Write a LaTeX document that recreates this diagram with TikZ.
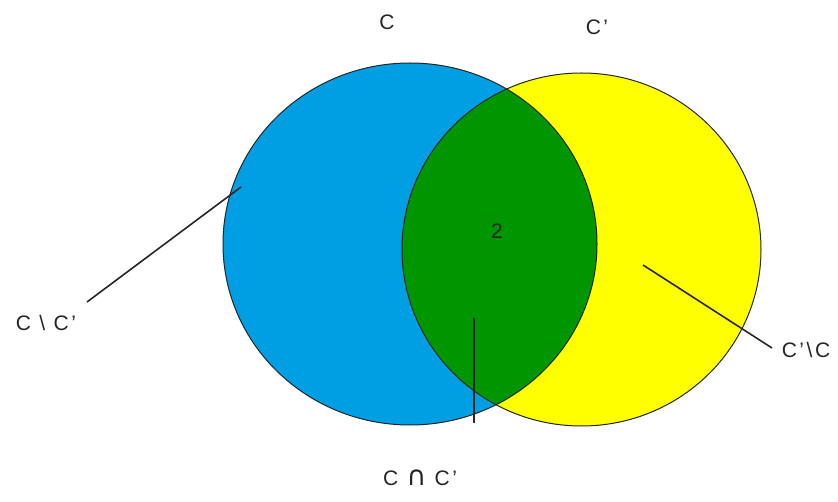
\documentclass[tikz,border=0pt]{standalone}
\usepackage{fontspec}
\setmainfont{Liberation Sans}[LetterSpace=12]
\newfontfamily\symfont{DejaVu Sans}
\usepackage{tikz}
\usetikzlibrary{positioning}
\definecolor{setblue}{RGB}{0,158,226}
\definecolor{setyellow}{RGB}{255,255,0}
\definecolor{setgreen}{RGB}{0,150,0}
\tikzset{
  rim/.style={draw=black!85, line width=1pt},
  lbl/.style={font=\fontsize{21}{24}\selectfont, text=black!85, inner sep=1pt},
  leader/.style={draw=black!85, line width=1.6pt},
}

\begin{document}
\begin{tikzpicture}[x=1pt, y=-1pt]
  \useasboundingbox (0,0) rectangle (838,502);
  % the two sets and their overlap
  \fill[setblue] (410,244) ellipse [x radius=187pt, y radius=181pt];
  \fill[setyellow] (581.5,249.5) ellipse [x radius=179.5pt, y radius=176.5pt];
  \begin{scope}
    \clip (410,244) ellipse [x radius=187pt, y radius=181pt];
    \fill[setgreen] (581.5,249.5) ellipse [x radius=179.5pt, y radius=176.5pt];
  \end{scope}
  \draw[rim] (410,244) ellipse [x radius=187pt, y radius=181pt];
  \draw[rim] (581.5,249.5) ellipse [x radius=179.5pt, y radius=176.5pt];
  % labels
  \node[lbl] (setC) at (387,22) {C};
  \node[lbl] (setCp) at (597,27) {C’};
  \node[lbl] (count) at (497,231) {2};
  \node[lbl] (onlyC) at (46,323) {C \textbackslash{} C’};
  \node[lbl] (onlyCp) at (806,350) {C’\textbackslash C};
  \node[lbl] (both) at (420,478) {C {\symfont\fontsize{27}{28}\selectfont ∩} C’};
  % leader lines
  \coordinate (inC) at (241,187);
  \coordinate (outC) at (87,302);
  \coordinate (inCp) at (643,265);
  \coordinate (outCp) at (772,348);
  \coordinate (inBoth) at (474,318);
  \coordinate (outBoth) at (474,423);
  \draw[leader] (outC) -- (inC);
  \draw[leader] (inCp) -- (outCp);
  \draw[leader] (inBoth) -- (outBoth);
\end{tikzpicture}
\end{document}
